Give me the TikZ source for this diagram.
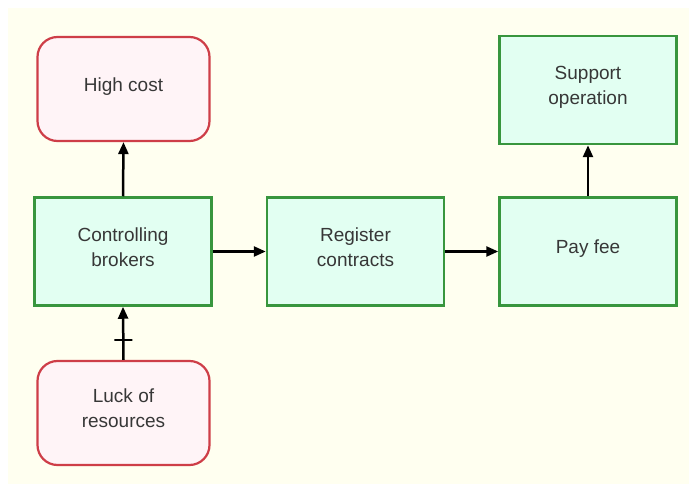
\documentclass[tikz,border=0pt]{standalone}
\usepackage{fontspec}
\setmainfont{Liberation Sans}
\usetikzlibrary{arrows.meta}
\definecolor{boxgreen}{RGB}{56,150,62}
\definecolor{boxmint}{RGB}{226,255,242}
\definecolor{boxred}{RGB}{206,62,72}
\definecolor{boxpink}{RGB}{255,244,247}
\definecolor{paper}{RGB}{255,255,240}
\definecolor{ink}{RGB}{55,55,55}
\begin{document}
\begin{tikzpicture}[x=1pt,y=1pt]
\tikzstyle{every node}+=[inner sep=0pt, text=ink, font=\fontsize{19}{25}\selectfont, align=center, text depth=9pt]
\tikzstyle{goodbox}=[rectangle, draw=boxgreen, fill=boxmint, line width=2.5pt, minimum width=177, minimum height=108]
\tikzstyle{badbox}=[rectangle, rounded corners=20pt, draw=boxred, fill=boxpink, line width=2.2pt, minimum width=172, minimum height=104]
\tikzstyle{link}=[black, line width=2.5pt, -{Triangle[length=12pt,width=10pt]}]
\tikzstyle{crossbar}=[draw=black, line width=2.2pt, minimum width=18, minimum height=0pt, text depth=0pt, inner sep=0pt]
\useasboundingbox (0,0) rectangle (689,-484);
\fill [paper] (8,-8) rectangle (689,-484);
\node [badbox] (high) at (123.5,-89) {High cost};
\node [goodbox] (ctrl) at (123,-251.5) {Controlling\\brokers};
\node [goodbox] (reg) at (355.5,-251.5) {Register\\contracts};
\node [goodbox] (fee) at (588,-251.5) {Pay fee};
\node [goodbox] (supp) at (588,-90) {Support\\operation};
\node [badbox] (luck) at (123.5,-413) {Luck of\\resources};
\draw [link] (ctrl.north) -- (high.south);
\draw [link] (ctrl.east) -- (reg.west);
\draw [link] (reg.east) -- (fee.west);
\draw [link] (fee.north) -- (supp.south);
\draw [link] (luck.north) -- (ctrl.south) node [crossbar, pos=0.38] {};
\end{tikzpicture}
\end{document}
